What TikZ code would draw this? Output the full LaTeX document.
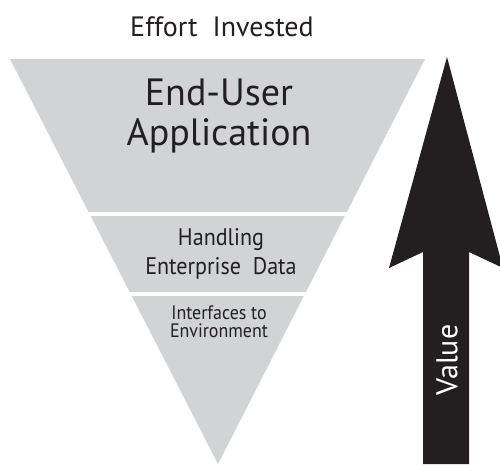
\documentclass[tikz,border=0pt]{standalone}
\usepackage{fontspec}
\setmainfont{PT Sans}
\newfontfamily\narrowfont[FakeStretch=0.92]{PT Sans}
\definecolor{bandgray}{HTML}{D1D3D4}
\definecolor{ink}{HTML}{231F20}
\begin{document}
\begin{tikzpicture}[x=1pt,y=-1pt,
  band/.style={fill=bandgray},
  label/.style={text=ink,align=center,inner sep=0pt,anchor=base}]
\useasboundingbox (0,0) rectangle (500,464);

% the inverted triangle, cut into three layers
\coordinate (tl) at (10,59);
\coordinate (tr) at (425,59);
\coordinate (tip) at (218,464);
\begin{scope}
\clip (tl) -- (tr) -- (tip) -- cycle;
\fill[band] (0,59) rectangle (500,212);
\fill[band] (0,216) rectangle (500,292);
\fill[band] (0,296) rectangle (500,464);
\end{scope}

% labels (base = baseline of the last line)
\node[label,font=\fontsize{28}{30}\selectfont] (effort) at (222,36) {Effort\ \ Invested};
\node[label,font=\fontsize{38}{40}\selectfont] (app) at (219,145) {End-User\\Application};
\node[label,font=\narrowfont\fontsize{24}{29}\selectfont] (data) at (221,274) {Handling\\Enterprise\ \ Data};
\node[label,font=\narrowfont\fontsize{19.5}{18}\selectfont] (env) at (219,337) {Interfaces to\\Environment};

% the value arrow
\fill[ink] (447,57) -- (503,268) -- (469,252) -- (469,464)
  -- (423,464) -- (423,252) -- (389,268) -- cycle;
\node[label,anchor=center,text=white,rotate=90,font=\fontsize{30}{30}\selectfont] (value) at (447,360) {Value};
\end{tikzpicture}
\end{document}
